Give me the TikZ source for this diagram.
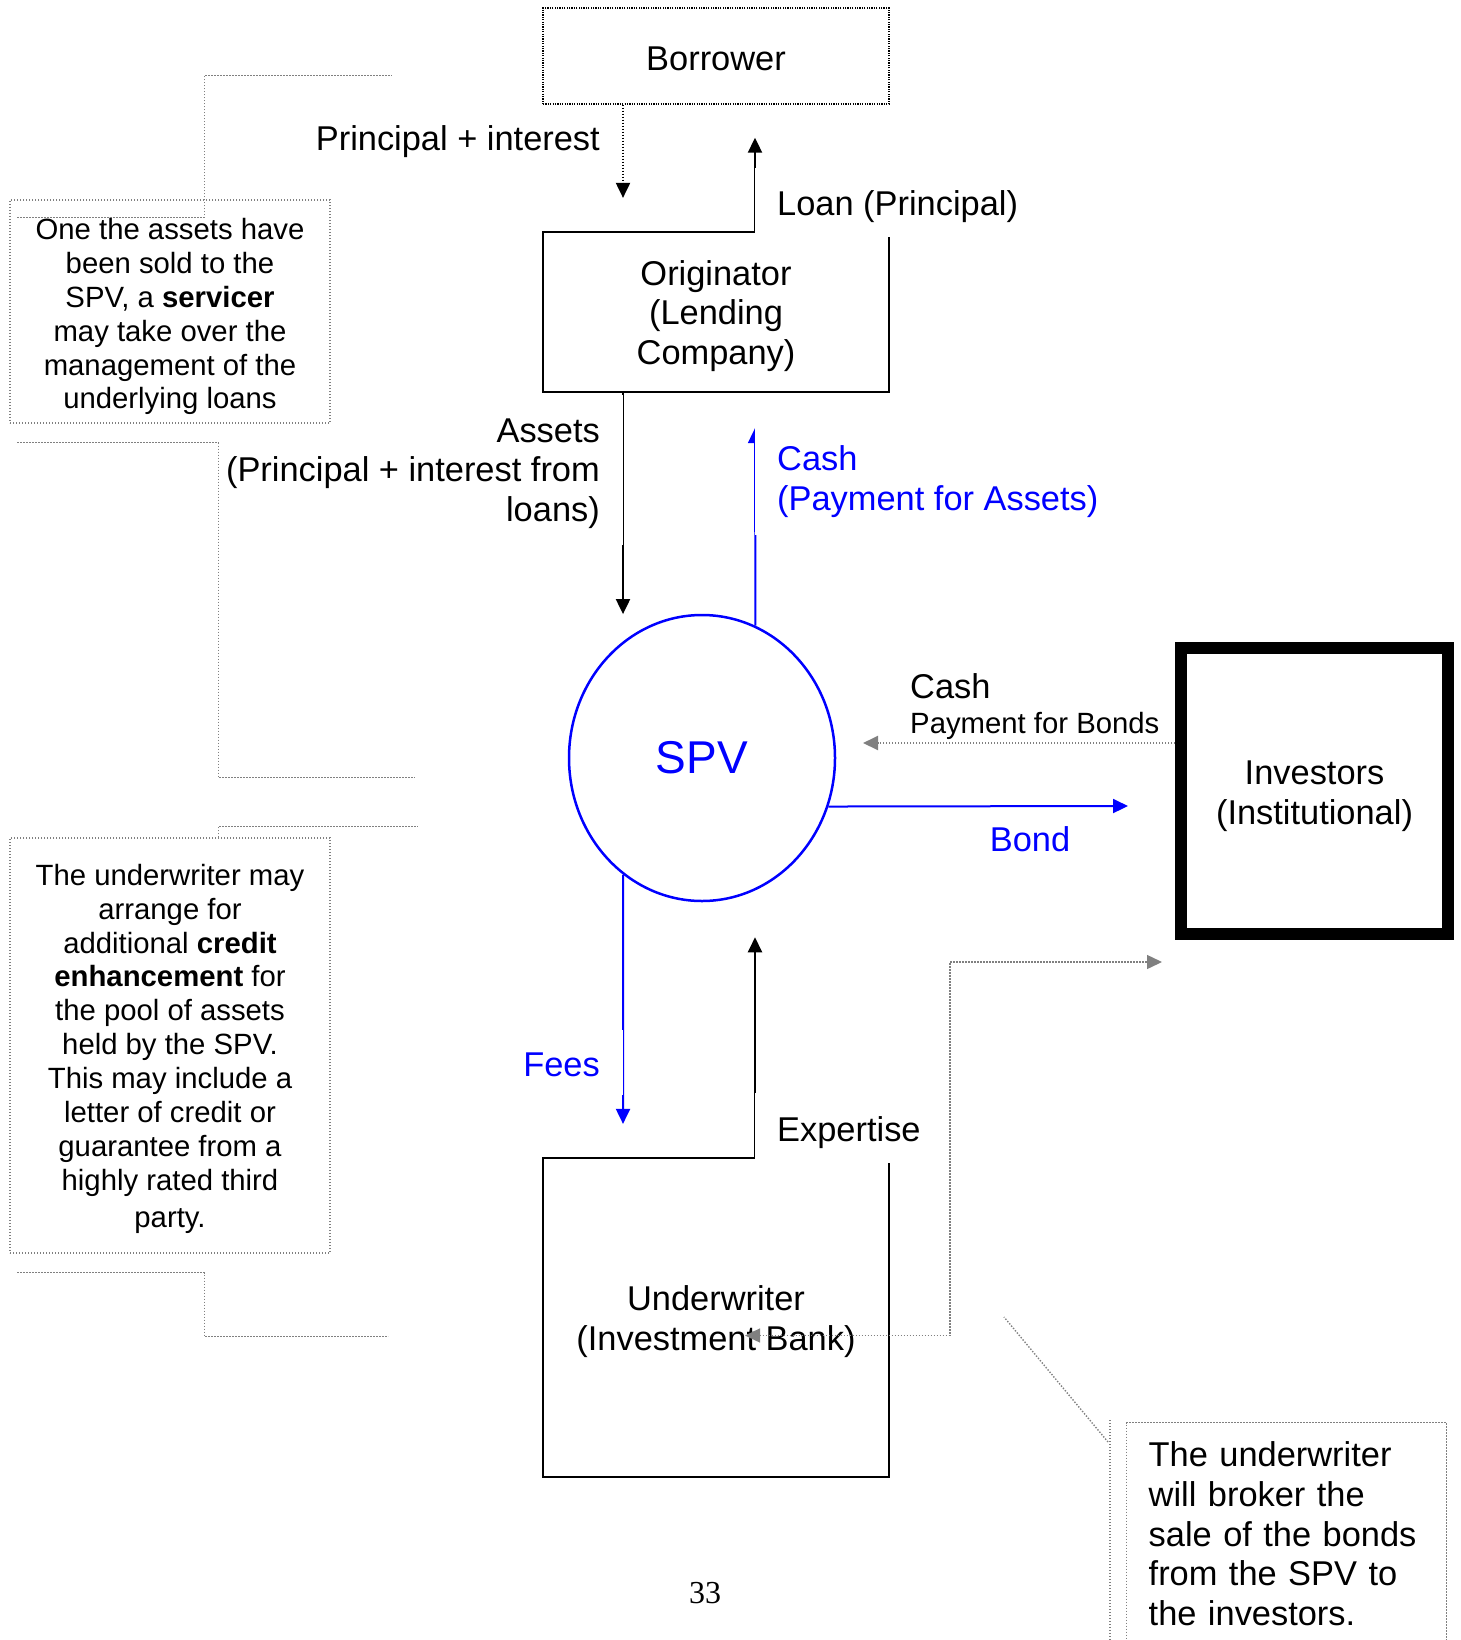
\documentclass[tikz,border=0pt]{standalone}
\usepackage{fontspec}
\setmainfont{Liberation Sans}
\newfontfamily\pagenumfont{Liberation Serif}
\usetikzlibrary{arrows.meta,shapes.geometric}
\newcommand{\lblsize}{\fontsize{34.4}{39.7}\selectfont}
\newcommand{\notesize}{\fontsize{29.3}{33.9}\selectfont}

\begin{document}
\begin{tikzpicture}[x=1pt,y=1pt]
\tikzstyle{every node}+=[inner sep=0pt]
\tikzstyle{party}=[draw=black, line width=2.2pt, minimum width=346pt, align=center, font=\lblsize]
\tikzstyle{notebox}=[draw=gray, line width=1.4pt, dash pattern=on 1.4pt off 1.6pt, minimum width=320pt, align=center, font=\notesize]
\tikzstyle{lead}=[gray, line width=1.4pt, dash pattern=on 1.4pt off 1.6pt]
\tikzstyle{flow}=[line width=2pt, -{Triangle[length=15pt,width=14pt]}]
\tikzstyle{coverlbl}=[fill=white, font=\lblsize, text height=33pt]
\path[use as bounding box, clip] (0,0) rectangle (1460,-1640);

\node (borrower) [party, line width=1.4pt, dash pattern=on 1.2pt off 1.2pt, minimum height=96pt, text height=29pt] at (716,-56) {Borrower};
\node (orig) [party, minimum height=160pt, text height=112.4pt] at (716,-312) {Originator\\(Lending\\Company)};
\node (spv) [ellipse, draw=blue, line width=2.5pt, minimum width=266pt, minimum height=286pt, text=blue, font=\fontsize{46}{52}\selectfont] at (702,-758) {SPV};
\node (inv) [party, line width=12pt, minimum width=267pt, minimum height=286.5pt, text height=73.7pt] at (1314.5,-791) {Investors\\(Institutional)};
\node (uw) [party, minimum height=319pt, text height=72.7pt] at (716,-1317.5) {Underwriter\\(Investment Bank)};

\draw[flow, dash pattern=on 1.5pt off 1.5pt] ([xshift=-93pt]borrower.south) -- ([xshift=-93pt,yshift=33pt]orig.north);
\draw[flow] ([xshift=39pt]orig.north) -- ([xshift=39pt,yshift=-33pt]borrower.south);
\draw[flow] ([xshift=-93pt]orig.south) -- ([xshift=-93pt,yshift=-221pt]orig.south);
\draw[flow, blue] (spv.68) -- ([xshift=39pt,yshift=-35pt]orig.south);
\draw[flow, gray, dash pattern=on 1.5pt off 1.5pt] ([yshift=48pt]inv.west) -- ([xshift=161pt,yshift=15pt]spv.center);
\draw[flow, blue] (spv.339) -- ([xshift=-47pt,yshift=-15pt]inv.west);
\draw[flow, blue] (spv.236) -- ([xshift=-93pt,yshift=33pt]uw.north);
\draw[flow] ([xshift=39pt]uw.north) -- ([xshift=53pt,yshift=-35pt]spv.south);

\node (pilbl) [font=\lblsize, anchor=east] at (600,-142) {Principal + interest};
\node (loanlbl) [coverlbl, anchor=west, inner xsep=22pt, minimum height=69pt] at (755,-202.5) {Loan (Principal)};
\node (assetslbl) [coverlbl, anchor=east, align=right, inner xsep=23pt, minimum height=150pt, text height=110.4pt] at (623,-470) {Assets\\(Principal + interest from\\loans)};
\node (cashlbl) [coverlbl, text=blue, anchor=west, align=left, inner xsep=22pt, minimum height=115pt, text height=72.7pt] at (755,-477.5) {Cash\\(Payment for Assets)};
\node (paycash) [font=\lblsize, anchor=west] at (910,-686) {Cash};
\node (paynote) [font=\notesize, anchor=west] at (910,-726) {Payment for Bonds};
\node (bondlbl) [font=\lblsize, text=blue] at (1030,-839) {Bond};
\node (feeslbl) [coverlbl, text=blue, anchor=east, inner xsep=23pt, minimum height=65pt, text height=29pt] at (623,-1062.5) {Fees};
\node (explbl) [coverlbl, anchor=west, inner xsep=22pt, minimum height=70pt, text height=34.5pt] at (755,-1128) {Expertise};

\draw[lead, {Triangle[length=15pt,width=14pt]}-{Triangle[length=15pt,width=14pt]}] ([shift={(29pt,-18pt)}]uw.center) -| ([shift={(-225pt,-171pt)}]inv.west) -- ([shift={(-13pt,-171pt)}]inv.west);

\node (servnote) [notebox, minimum height=223pt, text height=201pt] at (170,-311.5) {One the assets have\\been sold to the\\SPV, a \textbf{servicer}\\may take over the\\management of the\\underlying loans};
\draw[lead] ([shift={(8pt,-18pt)}]servnote.north west) -- ++(187,0) -- ++(0,142) -- ++(188,0);
\draw[lead] ([shift={(8pt,-19pt)}]servnote.south west) -- ++(201,0) -- ++(0,-335) -- ++(197,0);

\node (uwnote) [notebox, minimum height=415pt, text height=369.5pt] at (170,-1045.5) {The underwriter may\\arrange for\\additional \textbf{credit}\\\textbf{enhancement} for\\the pool of assets\\held by the SPV.\\This may include a\\letter of credit or\\guarantee from a\\highly rated third\\[3pt]party.};
\draw[lead] ([xshift=209pt]uwnote.north west) -- ++(0,11) -- ++(200,0);
\draw[lead] ([shift={(8pt,-19pt)}]uwnote.south west) -- ++(187,0) -- ++(0,-64) -- ++(184,0);

\node (brokernote) [notebox, anchor=north west, minimum height=222pt, font=\lblsize, align=left, text width=276pt] at (1126,-1422) {The underwriter\\will broker the\\sale of the bonds\\from the SPV to\\the investors.};
\draw[lead] ([shift={(-16pt,2pt)}]brokernote.north west) -- ++(0,-240);
\draw[lead] ([shift={(-18pt,-20pt)}]brokernote.north west) -- ++(-104,125);

\node (pagenum) at (705,-1593) {\pagenumfont\fontsize{32}{38}\selectfont 33};
\end{tikzpicture}
\end{document}
